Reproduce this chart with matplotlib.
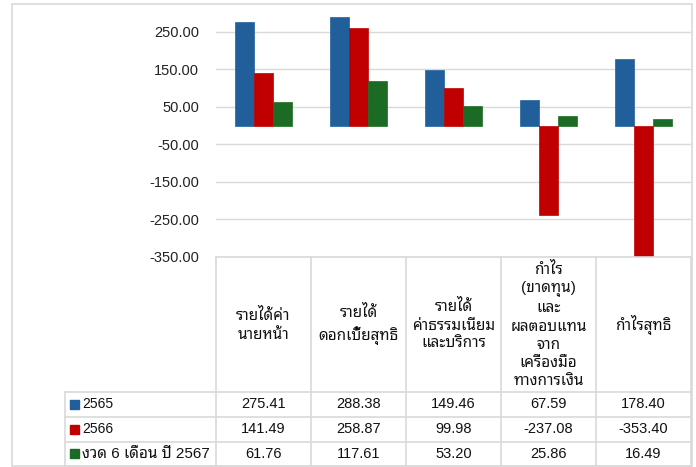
import matplotlib
matplotlib.use('Agg')
import matplotlib.pyplot as plt
import matplotlib.transforms as mtransforms
from matplotlib.patches import Rectangle
import numpy as np

plt.rcParams['font.family'] = ['Liberation Sans', 'Noto Sans Thai Looped', 'DejaVu Sans']

categories = ['รายได้ค่า\nนายหน้า',
              'รายได้\nดอกเบี้ยสุทธิ',
              'รายได้\nค่าธรรมเนียม\nและบริการ',
              'กำไร\n(ขาดทุน)\nและ\nผลตอบแทน\nจาก\nเครื่องมือ\nทางการเงิน',
              'กำไรสุทธิ']
series_names = ['2565', '2566', 'งวด 6 เดือน ปี 2567']
v2565 = [275.41, 288.38, 149.46, 67.59, 178.40]
v2566 = [141.49, 258.87, 99.98, -237.08, -353.40]
v2567h1 = [61.76, 117.61, 53.20, 25.86, 16.49]
colors = ['#215F9A', '#C00000', '#1C6B24']

W, H = 696, 467
fig = plt.figure(figsize=(W / 100, H / 100), dpi=100)

def fx(px):
    return px / W

def fy(py):
    return 1 - py / H

# outer chart border
fig.patches.append(Rectangle((fx(12), fy(466)), fx(692) - fx(12), fy(4) - fy(466),
                             transform=fig.transFigure, fill=False,
                             edgecolor='#D9D9D9', lw=1.2))

ax = fig.add_axes([fx(216), fy(257), fx(691) - fx(216), fy(13) - fy(257)])
x = np.arange(len(categories))
w = 0.197
for i, (vals, c) in enumerate(zip([v2565, v2566, v2567h1], colors)):
    ax.bar(x + (i - 1) * w, vals, w, color=c, edgecolor=c, lw=0.5, zorder=3)

ax.set_xlim(-0.5, len(categories) - 0.5)
ax.set_ylim(-350, 300)
ax.set_yticks(np.arange(-350, 300, 100))
ax.set_yticklabels(['%.2f' % t for t in np.arange(-350, 300, 100)])
ax.tick_params(axis='y', length=0, pad=12, labelsize=10.5, labelcolor='#222222')
ax.set_xticks([])
ax.yaxis.grid(True, color='#D9D9D9', lw=1)
ax.set_axisbelow(True)
for s in ax.spines.values():
    s.set_visible(False)

# data table below the plot
tr = mtransforms.blended_transform_factory(ax.transData, fig.transFigure)
line_kw = dict(color='#D9D9D9', lw=1.2, clip_on=False)
row_lines = [392, 416.5, 441.5, 466]
edges = np.arange(len(categories) + 1) - 0.5

fig.add_artist(plt.Line2D([fx(216), fx(691)], [fy(257), fy(257)],
                          transform=fig.transFigure, **line_kw))
for e in edges:
    fig.add_artist(plt.Line2D([e, e], [fy(257), fy(466)], transform=tr, **line_kw))
for yl in row_lines:
    fig.add_artist(plt.Line2D([fx(65), fx(691)], [fy(yl), fy(yl)],
                              transform=fig.transFigure, **line_kw))
fig.add_artist(plt.Line2D([fx(65), fx(65)], [fy(392), fy(466)],
                          transform=fig.transFigure, **line_kw))

for i, cat in enumerate(categories):
    fig.text(i, fy(325), cat, transform=tr, ha='center', va='center',
             fontsize=11, linespacing=1.38, color='#111111')

rows = [v2565, v2566, v2567h1]
row_centers = [(row_lines[k] + row_lines[k + 1]) / 2 for k in range(3)]
for k, (vals, name, c) in enumerate(zip(rows, series_names, colors)):
    yc = fy(row_centers[k])
    fig.patches.append(Rectangle((fx(70), yc - 4.5 / H), 9 / W, 9 / H,
                                 transform=fig.transFigure, color=c))
    fs = 11 if k == 2 else 10
    fig.text(fx(82), yc, name, ha='left', va='center', fontsize=fs, color='#111111')
    for i, v in enumerate(vals):
        fig.text(i, yc, '%.2f' % v, transform=tr, ha='center', va='center',
                 fontsize=10.5, color='#111111')

fig.savefig('out.png', dpi=100)
